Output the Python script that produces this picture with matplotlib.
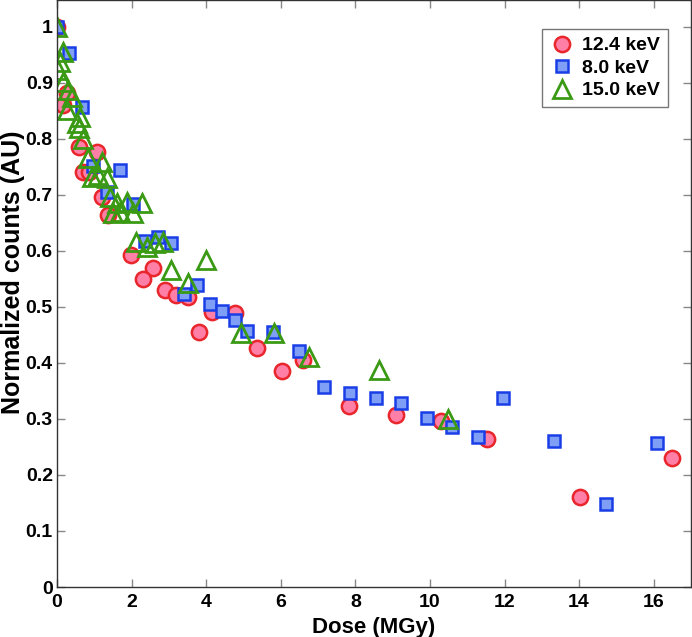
import matplotlib
matplotlib.use("Agg")
import matplotlib.pyplot as plt

# 12.4 keV (circles)
dose_124 = [0.0, 0.15, 0.27, 0.59, 1.07, 0.70, 0.86, 1.20, 1.37, 1.98, 2.57, 2.30, 2.90,
            3.20, 3.50, 4.15, 4.77, 3.80, 5.36, 6.03, 6.60, 7.83, 9.09, 10.30, 11.53,
            14.02, 16.49]
counts_124 = [1.0, 0.86, 0.882, 0.786, 0.777, 0.741, 0.741, 0.696, 0.664, 0.593, 0.570,
              0.550, 0.530, 0.521, 0.518, 0.491, 0.489, 0.455, 0.427, 0.386, 0.405, 0.323,
              0.307, 0.296, 0.264, 0.161, 0.231]

# 8.0 keV (squares)
dose_80 = [0.0, 0.32, 0.67, 0.97, 1.69, 1.34, 2.04, 2.36, 2.71, 3.06, 3.75, 3.40, 4.10,
           4.42, 4.77, 5.09, 5.80, 6.49, 7.16, 7.86, 8.55, 9.22, 9.92, 10.59, 11.29,
           11.96, 13.32, 14.72, 16.09]
counts_80 = [1.0, 0.954, 0.857, 0.752, 0.745, 0.705, 0.683, 0.618, 0.625, 0.614, 0.539,
             0.523, 0.505, 0.493, 0.477, 0.457, 0.456, 0.421, 0.357, 0.347, 0.337, 0.328,
             0.302, 0.286, 0.268, 0.338, 0.261, 0.148, 0.257]

# 15.0 keV (triangles)
dose_150 = [0.0, 0.16, 0.08, 0.03, 0.16, 0.30, 0.40, 0.26, 0.62, 0.53, 0.59, 0.70, 0.83,
            1.20, 0.94, 1.10, 1.34, 1.42, 1.60, 1.88, 2.28, 1.69, 1.50, 2.04, 2.12, 2.41,
            2.63, 2.84, 4.00, 3.06, 3.51, 4.93, 5.82, 6.76, 8.63, 10.48]
counts_150 = [1.0, 0.955, 0.938, 0.923, 0.902, 0.887, 0.875, 0.852, 0.840, 0.828, 0.820,
              0.800, 0.766, 0.759, 0.732, 0.736, 0.730, 0.696, 0.686, 0.688, 0.685, 0.670,
              0.667, 0.667, 0.616, 0.607, 0.614, 0.616, 0.584, 0.566, 0.543, 0.454, 0.454,
              0.410, 0.388, 0.300]

labels = ["12.4 keV", "8.0 keV", "15.0 keV"]
x_ticks = [0, 2, 4, 6, 8, 10, 12, 14, 16]
y_ticks = [0, 0.1, 0.2, 0.3, 0.4, 0.5, 0.6, 0.7, 0.8, 0.9, 1.0]
y_ticklabels = ["0", "0.1", "0.2", "0.3", "0.4", "0.5", "0.6", "0.7", "0.8", "0.9", "1"]

plt.rcParams['font.family'] = ['Liberation Sans', 'DejaVu Sans']
plt.rcParams['font.weight'] = 'bold'

fig = plt.figure(figsize=(6.92, 6.37), dpi=100)
ax = fig.add_axes([57/692, 50/637, 634/692, 587/637])

ax.plot(dose_124, counts_124, 'o', ms=11, mfc='#ff7fa6', mec='#e8262c', mew=1.8,
        label=labels[0], linestyle='none')
ax.plot(dose_80, counts_80, 's', ms=9, mfc='#7f9ff7', mec='#1a3ee6', mew=1.8,
        label=labels[1], linestyle='none')
ax.plot(dose_150, counts_150, '^', ms=13, mfc='none', mec='#3a9a14', mew=2.0,
        label=labels[2], linestyle='none')

ax.set_xlim(0, 17)
ax.set_ylim(0, 1.048)
ax.set_xticks(x_ticks)
ax.set_xticklabels([str(t) for t in x_ticks])
ax.set_yticks(y_ticks)
ax.set_yticklabels(y_ticklabels)
ax.tick_params(direction='in', length=6, color='#888888', top=True, right=True,
               labelsize=14, width=1, pad=3)
ax.tick_params(axis='x', pad=5)
for lab in ax.get_xticklabels() + ax.get_yticklabels():
    lab.set_fontweight('bold')
for s in ax.spines.values():
    s.set_color('#333333')
    s.set_linewidth(1.0)

ax.set_xlabel("Dose (MGy)", fontsize=16, fontweight='bold', labelpad=4)
ax.set_ylabel("Normalized counts (AU)", fontsize=18, fontweight='bold')
ax.yaxis.set_label_coords((25 - 57) / 634, (587 - 272) / 587)

leg = ax.legend(loc='upper right', bbox_to_anchor=((668-57)/634, 1 - 29/587),
                borderaxespad=0, fontsize=14,
                frameon=True, fancybox=False, edgecolor='#555555', handletextpad=0.4,
                borderpad=0.4, labelspacing=0.25, handlelength=1.3)
leg.get_frame().set_linewidth(1.0)
for t in leg.get_texts():
    t.set_fontweight('bold')

fig.savefig("out.png", dpi=100)
